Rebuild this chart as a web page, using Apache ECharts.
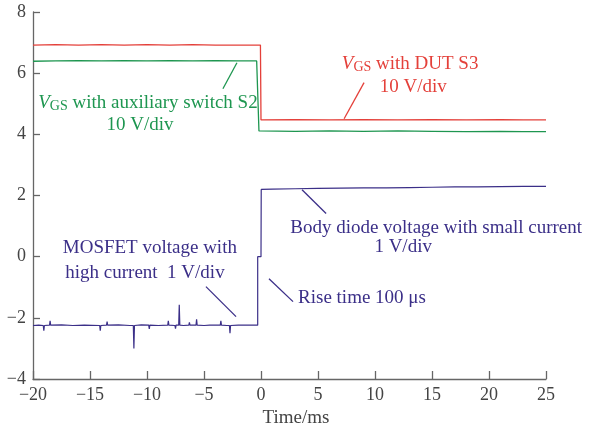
<!DOCTYPE html>
<html>
<head>
<meta charset="utf-8">
<script src="https://cdn.jsdelivr.net/npm/echarts@6/dist/echarts.min.js"></script>
<style>html,body{margin:0;padding:0;background:#fff}#c{width:593px;height:436px}</style>
</head>
<body>
<div id="c"></div>
<script>
// ---- data (time in ms, value in div units) ----
var xTicks = [-20, -15, -10, -5, 0, 5, 10, 15, 20, 25];
var yTicks = [-4, -2, 0, 2, 4, 6, 8];

var redTime = [-20, -18, -16, -14, -12, -10, -8, -6, -4, -2, -0.05, 0.0, 0.05, 3, 6, 9, 12, 15, 18, 21, 23, 25];
var redVolt = [6.92, 6.93, 6.92, 6.93, 6.92, 6.93, 6.92, 6.93, 6.92, 6.92, 6.92, 4.47, 4.47, 4.48, 4.47, 4.48, 4.47, 4.48, 4.47, 4.48, 4.47, 4.47];

var greenTime = [-20, -18, -16, -14, -12, -10, -8, -6, -4, -2, -0.38, -0.18, -0.1, 3, 6, 9, 12, 15, 18, 21, 23, 25];
var greenVolt = [6.39, 6.40, 6.41, 6.40, 6.41, 6.40, 6.41, 6.40, 6.41, 6.40, 6.40, 4.11, 4.11, 4.10, 4.11, 4.10, 4.11, 4.10, 4.09, 4.10, 4.09, 4.09];

var blueTime = [-20, -19.5, -19.1, -19.05, -19.0, -18.55, -18.5, -18.45, -17.5, -16.5, -15.5, -14.15, -14.1, -14.05, -13.55, -13.5, -13.45, -12.5, -11.5, -11.2, -11.15, -11.1, -10.5, -9.85, -9.8, -9.75, -9.0, -8.18, -8.13, -8.08, -7.55, -7.5, -7.45, -7.22, -7.17, -7.12, -6.8, -6.33, -6.28, -6.23, -5.7, -5.65, -5.6, -5.0, -4.5, -3.57, -3.52, -3.47, -3.0, -2.77, -2.72, -2.67, -2.0, -1.0, -0.29, -0.29, 0.0, 0.02, 1, 3, 5, 7, 9, 11, 13, 15, 17, 19, 21, 23, 25];
var blueVolt = [-2.25, -2.24, -2.25, -2.42, -2.25, -2.24, -2.1, -2.24, -2.23, -2.25, -2.24, -2.25, -2.42, -2.25, -2.24, -2.12, -2.24, -2.23, -2.25, -2.25, -3.0, -2.25, -2.23, -2.24, -2.36, -2.24, -2.25, -2.24, -2.1, -2.24, -2.25, -2.35, -2.24, -2.24, -1.57, -2.24, -2.25, -2.24, -2.15, -2.24, -2.24, -2.05, -2.24, -2.25, -2.24, -2.24, -2.1, -2.24, -2.25, -2.25, -2.5, -2.25, -2.24, -2.24, -2.24, 0.0, 0.0, 2.2, 2.21, 2.22, 2.23, 2.24, 2.25, 2.25, 2.26, 2.27, 2.28, 2.28, 2.29, 2.30, 2.30];

function pairs(t, v) { return t.map(function (x, i) { return [x, v[i]]; }); }

var RED = '#e4403a', GREEN = '#1e9650', BLUE = '#3b2f88';
var SERIF = '"Liberation Serif", "DejaVu Serif", serif';

// annotations: anchor in data coordinates
var texts = [
  { rich: true, v: 'V', rest: ' with DUT S3', x: 13.08, y: 6.31, color: RED, align: 'center' },
  { text: '10 V/div', x: 13.35, y: 5.56, color: RED, align: 'center' },
  { rich: true, v: 'V', rest: ' with auxiliary switch S2', x: -9.92, y: 5.03, color: GREEN, align: 'center' },
  { text: '10 V/div', x: -10.62, y: 4.32, color: GREEN, align: 'center' },
  { text: 'Body diode voltage with small current', x: 15.36, y: 0.95, color: BLUE, align: 'center' },
  { text: '1 V/div', x: 12.47, y: 0.33, color: BLUE, align: 'center' },
  { text: 'MOSFET voltage with', x: -9.75, y: 0.27, color: BLUE, align: 'center' },
  { text: 'high current  1 V/div', x: -10.18, y: -0.52, color: BLUE, align: 'center' },
  { text: 'Rise time 100 \u03bcs', x: 3.25, y: -1.34, color: BLUE, align: 'left' },
  { text: 'Time/ms', x: 3.07, y: -5.27, color: '#444', align: 'center' }
];
var leaders = [
  { x1: 9.04, y1: 5.69, x2: 7.29, y2: 4.51, color: RED },
  { x1: -3.34, y1: 5.49, x2: -2.11, y2: 6.34, color: GREEN },
  { x1: 3.60, y1: 2.19, x2: 5.71, y2: 1.41, color: BLUE },
  { x1: -4.83, y1: -0.98, x2: -2.19, y2: -1.96, color: BLUE },
  { x1: 0.70, y1: -0.72, x2: 2.81, y2: -1.47, color: BLUE }
];

function fmt(v) { return String(v).replace('-', '\u2212'); }

var chart = echarts.init(document.getElementById('c'));
var axisCommon = {
  axisLine: { show: true, onZero: false, lineStyle: { color: '#666', width: 1.3 } },
  axisTick: { show: true, inside: true, length: 8, lineStyle: { color: '#666', width: 1.3 } },
  splitLine: { show: false },
  axisLabel: { color: '#444', fontFamily: SERIF, fontSize: 18, formatter: fmt }
};
chart.setOption({
  animation: false,
  backgroundColor: '#fff',
  grid: { left: 33, right: 47, top: 12, bottom: 57 },
  xAxis: Object.assign({ type: 'value', min: xTicks[0], max: xTicks[xTicks.length - 1], interval: 5 }, axisCommon,
    { axisLabel: Object.assign({}, axisCommon.axisLabel, { margin: 7 }) }),
  yAxis: Object.assign({ type: 'value', min: yTicks[0], max: yTicks[yTicks.length - 1], interval: 2 }, axisCommon,
    { axisLabel: Object.assign({}, axisCommon.axisLabel, { margin: 7 }), axisTick: Object.assign({}, axisCommon.axisTick, { length: 7 }) }),
  series: [
    { type: 'line', data: pairs(redTime, redVolt), symbol: 'none', lineStyle: { color: RED, width: 1.3 } },
    { type: 'line', data: pairs(greenTime, greenVolt), symbol: 'none', lineStyle: { color: GREEN, width: 1.3 } },
    { type: 'line', data: pairs(blueTime, blueVolt), symbol: 'none', lineStyle: { color: BLUE, width: 1.2 } }
  ]
});

var FS = 19;
var g = [];
texts.forEach(function (t) {
  var p = chart.convertToPixel({ gridIndex: 0 }, [t.x, t.y]);
  var style = {
    x: p[0], y: p[1], fill: t.color, font: FS + 'px ' + SERIF,
    align: t.align, verticalAlign: 'middle'
  };
  if (t.rich) {
    style.text = '{i|' + t.v + '}{s|GS}{n|' + t.rest + '}';
    style.rich = {
      i: { fontFamily: SERIF, fontSize: FS, fontStyle: 'italic', fill: t.color },
      s: { fontFamily: SERIF, fontSize: 14, fill: t.color, padding: [7, 0, 0, 0] },
      n: { fontFamily: SERIF, fontSize: FS, fill: t.color }
    };
  } else {
    style.text = t.text;
  }
  g.push({ type: 'text', style: style, z: 100 });
});
leaders.forEach(function (l) {
  var a = chart.convertToPixel({ gridIndex: 0 }, [l.x1, l.y1]);
  var b = chart.convertToPixel({ gridIndex: 0 }, [l.x2, l.y2]);
  g.push({ type: 'line', shape: { x1: a[0], y1: a[1], x2: b[0], y2: b[1] }, style: { stroke: l.color, lineWidth: 1.3 }, z: 100 });
});
chart.setOption({ graphic: g });
</script>
</body>
</html>
